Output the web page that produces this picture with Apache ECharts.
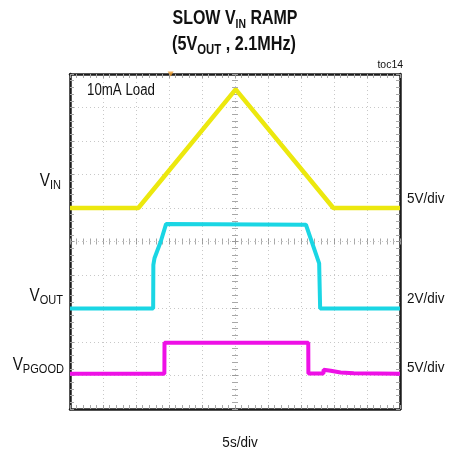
<!DOCTYPE html>
<html><head><meta charset="utf-8">
<script src="https://cdn.jsdelivr.net/npm/echarts@6/dist/echarts.min.js"></script>
<style>html,body{margin:0;padding:0;background:#fff}#c{width:452px;height:454px}</style>
</head><body><div id="c"></div>
<script>
// time in seconds (5 s/div), level in screen divisions (0 = bottom of screen)
const vinTime = [0, 10.35, 25.1, 39.9, 50];
const vinDiv = [6.0, 6.0, 9.54, 6.0, 6.0];
const voutTime = [0, 12.6, 12.63, 12.8, 13.75, 14.55, 35.75, 37.75, 37.9, 50];
const voutDiv = [3.0, 3.0, 4.3, 4.5, 5.0, 5.52, 5.5, 4.35, 3.0, 3.0];
const pgoodTime = [0, 14.3, 14.32, 36.1, 36.12, 38.4, 38.42, 39.5, 41, 43, 50];
const pgoodDiv = [1.05, 1.05, 1.98, 1.98, 1.06, 1.06, 1.17, 1.14, 1.09, 1.07, 1.05];
const triggerTime = [15.25];
const xTicks = [0, 50, 5];   // min, max, interval (s)
const yTicks = [0, 10, 1];   // min, max, interval (div)

const F = 'Liberation Sans, Arial, sans-serif';
const chart = echarts.init(document.getElementById('c'));
const zip = (a, b) => a.map((v, i) => [v, b[i]]);

function txt(x, y, text, rich, align, vAlign, sx) {
  return { type: 'text', x: x, y: y, scaleX: sx, z: 100,
    style: { text: text, rich: rich, align: align, verticalAlign: vAlign, fill: '#111',
      fontFamily: F } };
}
function plain(x, y, text, size, align, vAlign, sx) {
  return { type: 'text', x: x, y: y, scaleX: sx, z: 100,
    style: { text: text, align: align, verticalAlign: vAlign, fill: '#111', fontFamily: F, fontSize: size } };
}
function richSet(mSize, sSize, bold, lift) {
  const w = bold ? 'bold' : 'normal';
  return {
    m: { fontSize: mSize, fontWeight: w, fontFamily: F, fill: '#111', verticalAlign: 'bottom', padding: [0, 0, lift, 0] },
    s: { fontSize: sSize, fontWeight: w, fontFamily: F, fill: '#111', verticalAlign: 'bottom' }
  };
}
const gridLine = { show: true, lineStyle: { color: '#c8c8c8', type: [1, 3], width: 1 } };
const border = { show: true, onZero: false, lineStyle: { color: '#1c1c1c', width: 2.5 } };
const noLine = { show: false, onZero: false };
function ax(kind, pos, gi, opts) {
  const o = Object.assign({
    type: 'value', gridIndex: gi, position: pos,
    min: kind === 'x' ? xTicks[0] : yTicks[0], max: kind === 'x' ? xTicks[1] : yTicks[1],
    interval: kind === 'x' ? xTicks[2] : yTicks[2],
    axisLine: border, axisLabel: { show: false },
    axisTick: { show: true, inside: true, length: opts.len || 4, lineStyle: { color: '#9a9a9a' } },
    minorTick: { show: true, splitNumber: 5, length: opts.len || 4, lineStyle: { color: '#a8a8a8' } },
    splitLine: { show: false }
  }, opts.extra || {});
  return o;
}
const G = { left: 70, top: 74, width: 330, height: 335, containLabel: false };
const option = {
  animation: false,
  backgroundColor: '#fff',
  grid: [Object.assign({}, G), Object.assign({}, G)],
  xAxis: [
    ax('x', 'bottom', 0, { extra: { splitLine: gridLine } }),
    ax('x', 'top', 0, {}),
    ax('x', 'bottom', 1, { len: 3, extra: { offset: -167.5, axisLine: noLine } }),
    ax('x', 'top', 1, { len: 3, extra: { offset: -167.5, axisLine: noLine } })
  ],
  yAxis: [
    ax('y', 'left', 0, { extra: { splitLine: gridLine } }),
    ax('y', 'right', 0, {}),
    ax('y', 'left', 1, { len: 3, extra: { offset: -165, axisLine: noLine } }),
    ax('y', 'right', 1, { len: 3, extra: { offset: -165, axisLine: noLine } })
  ],
  series: [
    { type: 'line', name: 'VPGOOD', data: zip(pgoodTime, pgoodDiv), showSymbol: false, lineStyle: { color: '#ee10e6', width: 4 } },
    { type: 'line', name: 'VOUT', data: zip(voutTime, voutDiv), showSymbol: false, lineStyle: { color: '#1ad6e4', width: 4 } },
    { type: 'line', name: 'VIN', data: zip(vinTime, vinDiv), showSymbol: false, lineStyle: { color: '#ece80e', width: 4.5 } },
    { type: 'scatter', name: 'trigger', data: triggerTime.map(t => [t, yTicks[1]]), symbol: 'triangle', symbolRotate: 180,
      symbolSize: [6, 5], symbolOffset: [0, 0], itemStyle: { color: '#f0a030' }, clip: false, z: 10 }
  ],
  graphic: [
    txt(235, 31, '{m|SLOW V}{s|IN}{m| RAMP}', richSet(20, 13, true, 3), 'center', 'bottom', 0.8),
    txt(234, 57, '{m|(5V}{s|OUT}{m| , 2.1MHz)}', richSet(20, 14, true, 3), 'center', 'bottom', 0.81),
    plain(403, 65, 'toc14', 11, 'right', 'middle', 0.95),
    plain(87, 91, '10mA Load', 16, 'left', 'middle', 0.83),
    txt(61, 192, '{m|V}{s|IN}', richSet(18, 13, false, 2), 'right', 'bottom', 0.85),
    txt(63, 307, '{m|V}{s|OUT}', richSet(18, 13, false, 2), 'right', 'bottom', 0.85),
    txt(64, 376, '{m|V}{s|PGOOD}', richSet(18, 13, false, 2), 'right', 'bottom', 0.85),
    plain(407, 199, '5V/div', 15, 'left', 'middle', 0.9),
    plain(407, 299, '2V/div', 15, 'left', 'middle', 0.9),
    plain(407, 368, '5V/div', 15, 'left', 'middle', 0.9),
    plain(240, 443, '5s/div', 15, 'center', 'middle', 0.9)
  ]
};
chart.setOption(option);
</script></body></html>
